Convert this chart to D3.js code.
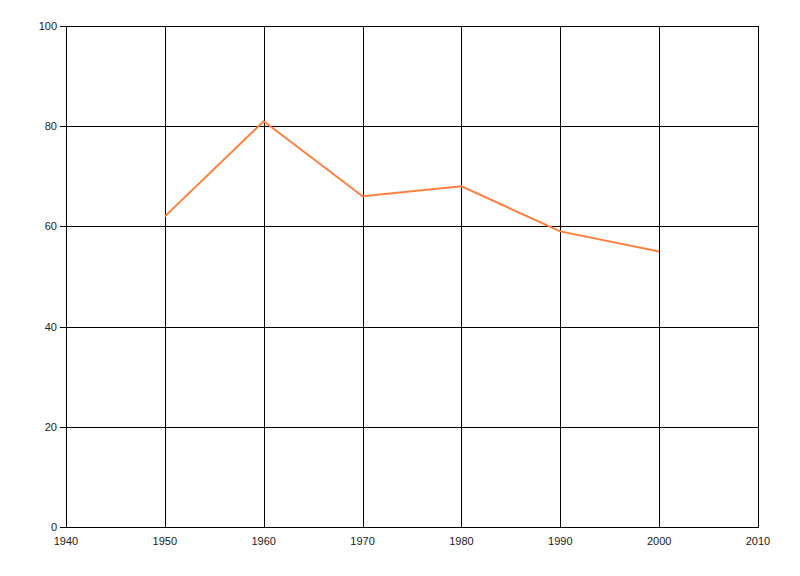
<!DOCTYPE html>
<html>
<head>
<meta charset="utf-8">
<script src="https://cdn.jsdelivr.net/npm/d3@7"></script>
<style>
  body { margin: 0; background: #fff; }
  text { font-family: "Liberation Sans", Arial, sans-serif; font-size: 11px; fill: #1a1a1a; }
</style>
</head>
<body>
<svg id="chart" width="800" height="576"></svg>
<script>
let years = [1950, 1960, 1970, 1980, 1990, 2000];
let values = [62, 81, 66, 68, 59, 55];
let xTicks = [1940, 1950, 1960, 1970, 1980, 1990, 2000, 2010];
let yTicks = [0, 20, 40, 60, 80, 100];

let svg = d3.select("#chart");
let plotLeft = 66, plotRight = 758, plotTop = 26, plotBottom = 527;

let x = d3.scaleLinear().domain([1940, 2010]).range([plotLeft, plotRight]);
let y = d3.scaleLinear().domain([0, 100]).range([plotBottom, plotTop]);

// vertical grid
svg.append("g")
  .selectAll("line")
  .data(xTicks)
  .enter()
  .append("line")
  .attr("x1", d => Math.round(x(d)) + 0.5)
  .attr("x2", d => Math.round(x(d)) + 0.5)
  .attr("y1", plotTop)
  .attr("y2", plotBottom + 1)
  .attr("stroke", "#000")
  .attr("stroke-width", 1);

// horizontal grid + y ticks
svg.append("g")
  .selectAll("line")
  .data(yTicks)
  .enter()
  .append("line")
  .attr("x1", plotLeft - 6)
  .attr("x2", plotRight + 1)
  .attr("y1", d => Math.round(y(d)) + 0.5)
  .attr("y2", d => Math.round(y(d)) + 0.5)
  .attr("stroke", "#000")
  .attr("stroke-width", 1);

// y labels
svg.append("g")
  .selectAll("text")
  .data(yTicks)
  .enter()
  .append("text")
  .attr("x", plotLeft - 9)
  .attr("y", d => Math.round(y(d)) + 4)
  .attr("text-anchor", "end")
  .text(d => d);

// x labels
svg.append("g")
  .selectAll("text")
  .data(xTicks)
  .enter()
  .append("text")
  .attr("x", d => x(d))
  .attr("y", plotBottom + 18)
  .attr("text-anchor", "middle")
  .text(d => d);

// series line
let line = d3.line()
  .x((d, i) => x(years[i]))
  .y(d => y(d));

svg.append("path")
  .datum(values)
  .attr("d", line)
  .attr("fill", "none")
  .attr("stroke", "#ff7f3f")
  .attr("stroke-width", 2);
</script>
</body>
</html>
